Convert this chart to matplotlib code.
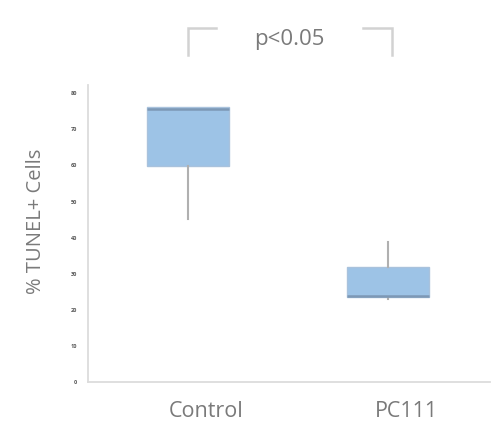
import matplotlib
matplotlib.use("Agg")
import matplotlib.pyplot as plt

categories = ["Control", "PC111"]
whisker_low = [45.2, 23.0]
q1 = [59.8, 23.5]
median = [75.6, 23.9]
q3 = [76.2, 31.9]
whisker_high = [76.2, 38.8]
y_ticks = [0, 10, 20, 30, 40, 50, 60, 70, 80]
p_text = "p<0.05"
y_label = "% TUNEL+ Cells"

plt.rcParams['font.family'] = ['Open Sans', 'DejaVu Sans']

fig = plt.figure(figsize=(4.94, 4.26), dpi=100)
ax = fig.add_axes([88/494, 1-382/426, (490-88)/494, (382-85)/426])

stats = []
for i, c in enumerate(categories):
    stats.append(dict(label=c, whislo=whisker_low[i], q1=q1[i], med=median[i],
                      q3=q3[i], whishi=whisker_high[i], fliers=[]))

positions = [1, 2]
ax.bxp(stats, positions=positions, widths=0.41, patch_artist=True, showcaps=False,
       boxprops=dict(facecolor='#9DC3E6', edgecolor='#A9C2DC', linewidth=1),
       medianprops=dict(color='#7D98B5', linewidth=1.8),
       whiskerprops=dict(color='#B0B0B0', linewidth=1.5),
       zorder=3)

ax.set_xlim(0.5, 2.51)
ax.set_ylim(0, 82.3)

for s in ['top', 'right']:
    ax.spines[s].set_visible(False)
for s in ['left', 'bottom']:
    ax.spines[s].set_color('#DCDCDC')
    ax.spines[s].set_linewidth(1.3)

ax.set_yticks(y_ticks)
ax.set_yticklabels([str(v) for v in y_ticks], fontsize=4, color='#555555',
                   fontweight='bold')
ax.tick_params(axis='y', length=0, pad=8)
ax.set_xticks([p + 0.09 for p in positions])
ax.set_xticklabels(categories, fontsize=15.5, color='#7A7A7A')
ax.tick_params(axis='x', length=0, pad=14)

ax.set_ylabel(y_label, fontsize=14.5, color='#7A7A7A')
ax.yaxis.set_label_coords(-0.105, 0.54)

# significance bracket
bc = '#D2D2D2'
ax.plot([1.0, 1.0, 1.14], [90.6, 98.2, 98.2], color=bc, lw=1.8, clip_on=False,
        solid_joinstyle='miter')
ax.plot([1.875, 2.02, 2.02], [98.2, 98.2, 90.6], color=bc, lw=1.8, clip_on=False,
        solid_joinstyle='miter')
ax.text(1.505, 95.0, p_text, ha='center', va='center', fontsize=16,
        color='#7A7A7A', clip_on=False)

fig.savefig("out.png", dpi=100, facecolor='white')
